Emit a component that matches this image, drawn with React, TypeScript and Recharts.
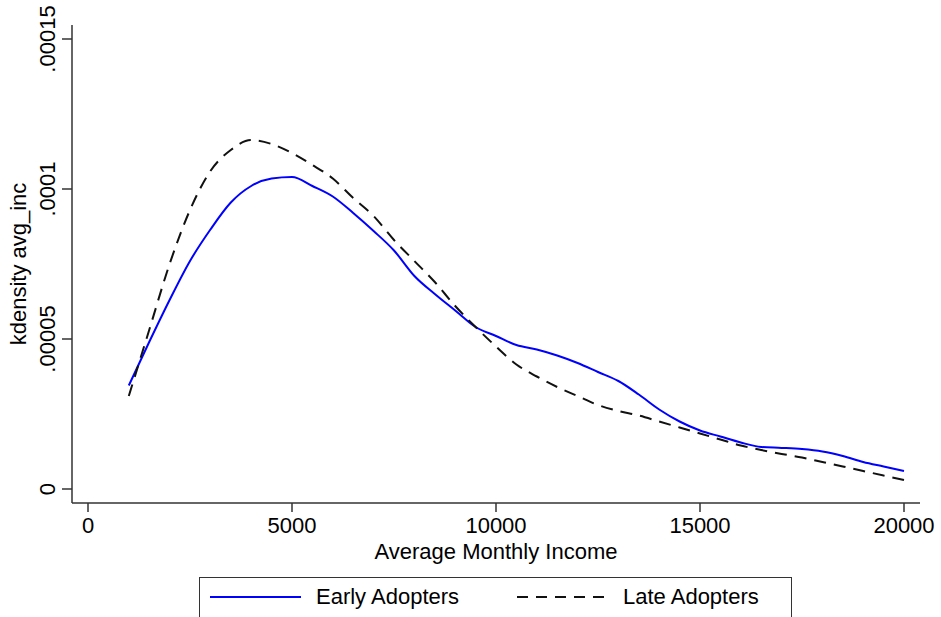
import React from 'react';
import { LineChart, Line, XAxis, YAxis, Label } from 'recharts';

const income = [
  1000, 1500, 2000, 2500, 3000, 3500, 4000, 4500, 5000, 5500,
  6000, 6500, 7000, 7500, 8000, 8500, 9000, 9500, 10000, 10500,
  11000, 11500, 12000, 12500, 13000, 13500, 14000, 14500, 15000, 15500,
  16000, 16500, 17000, 17500, 18000, 18500, 19000, 19500, 20000,
];

const earlyAdopters = [
  0.0000345, 0.000049, 0.000063, 0.000076, 0.0000865, 0.0000955, 0.000101, 0.0001035, 0.000104, 0.000101,
  0.0000975, 0.000092, 0.000086, 0.0000795, 0.000071, 0.000065, 0.0000595, 0.000054, 0.000051, 0.000048,
  0.0000465, 0.0000445, 0.000042, 0.000039, 0.000036, 0.0000315, 0.0000265, 0.0000225, 0.0000195, 0.0000175,
  0.0000155, 0.000014, 0.0000137, 0.0000133, 0.0000125, 0.000011, 0.000009, 0.0000075, 0.000006,
];

const lateAdopters = [
  0.000031, 0.000053, 0.000075, 0.000093, 0.000106, 0.000113, 0.0001163, 0.000115, 0.000112, 0.000108,
  0.0001035, 0.000097, 0.000091, 0.000083, 0.000076, 0.000069, 0.000061, 0.000054, 0.0000475, 0.0000415,
  0.0000375, 0.000034, 0.000031, 0.000028, 0.000026, 0.0000245, 0.0000225, 0.0000205, 0.0000185, 0.0000165,
  0.0000145, 0.000013, 0.0000117, 0.0000105, 0.000009, 0.0000075, 0.000006, 0.0000045, 0.000003,
];

const xTicks = [0, 5000, 10000, 15000, 20000];
const yTicks = [0, 0.00005, 0.0001, 0.00015];
const yTickLabels = ['0', '.00005', '.0001', '.00015'];

const seriesNames = ['Early Adopters', 'Late Adopters'];

const data = income.map((v, i) => ({
  income: v,
  early: earlyAdopters[i],
  late: lateAdopters[i],
}));

const FONT = '"Liberation Sans", Arial, sans-serif';
const AXIS = '#333333';

const YTick = (props: any) => {
  const { x, y, index } = props;
  return (
    <text
      x={x}
      y={y}
      transform={`rotate(-90, ${x}, ${y})`}
      textAnchor="middle"
      fontSize={22}
      fontFamily={FONT}
      fill="#000"
    >
      {yTickLabels[index]}
    </text>
  );
};

export default function App() {
  return (
    <div style={{ position: 'absolute', left: 0, top: 0, width: 941, height: 617, background: '#fff', overflow: 'hidden' }}>
      <LineChart width={941} height={617} data={data} margin={{ top: 25, right: 21, bottom: 0, left: 0 }}>
        <XAxis
          type="number"
          dataKey="income"
          domain={[0, 20000]}
          ticks={xTicks}
          padding={{ left: 16, right: 16 }}
          height={114}
          tickSize={9}
          tickMargin={5}
          stroke={AXIS}
          strokeWidth={1.5}
          tick={{ fontSize: 22, fontFamily: FONT, fill: '#000' }}
        >
          <Label
            content={(p: any) => (
              <text
                x={p.viewBox.x + p.viewBox.width / 2}
                y={p.viewBox.y + 56}
                textAnchor="middle"
                fontSize={22}
                fontFamily={FONT}
                fill="#000"
              >
                Average Monthly Income
              </text>
            )}
          />
        </XAxis>
        <YAxis
          type="number"
          domain={[0, 0.00015]}
          ticks={yTicks}
          padding={{ top: 14, bottom: 14 }}
          width={72}
          tickSize={10}
          tickMargin={7.5}
          stroke={AXIS}
          strokeWidth={1.5}
          tick={<YTick />}
        >
          <Label
            content={(p: any) => {
              const cx = 26;
              const cy = p.viewBox.y + p.viewBox.height / 2;
              return (
                <text
                  x={cx}
                  y={cy}
                  transform={`rotate(-90, ${cx}, ${cy})`}
                  textAnchor="middle"
                  fontSize={22}
                  fontFamily={FONT}
                  fill="#000"
                >
                  kdensity avg_inc
                </text>
              );
            }}
          />
        </YAxis>
        <Line
          type="monotone"
          dataKey="early"
          name={seriesNames[0]}
          stroke="#0000FF"
          strokeWidth={2}
          dot={false}
          isAnimationActive={false}
        />
        <Line
          type="monotone"
          dataKey="late"
          name={seriesNames[1]}
          stroke="#111111"
          strokeWidth={2}
          strokeDasharray="12 8"
          dot={false}
          isAnimationActive={false}
        />
      </LineChart>
      <div
        style={{
          position: 'absolute',
          left: 199,
          top: 577,
          width: 593,
          height: 50,
          border: '1.5px solid #333',
          boxSizing: 'border-box',
          fontFamily: FONT,
          fontSize: 22,
          color: '#000',
        }}
      >
        <svg width={100} height={40} style={{ position: 'absolute', left: 10, top: 0 }}>
          <line x1={0} y1={19} x2={91} y2={19} stroke="#0000FF" strokeWidth={2} />
        </svg>
        <span style={{ position: 'absolute', left: 116, top: 6, whiteSpace: 'nowrap' }}>{seriesNames[0]}</span>
        <svg width={100} height={40} style={{ position: 'absolute', left: 317, top: 0 }}>
          <line x1={0} y1={19} x2={91} y2={19} stroke="#111111" strokeWidth={2} strokeDasharray="11 8" />
        </svg>
        <span style={{ position: 'absolute', left: 423, top: 6, whiteSpace: 'nowrap' }}>{seriesNames[1]}</span>
      </div>
    </div>
  );
}
